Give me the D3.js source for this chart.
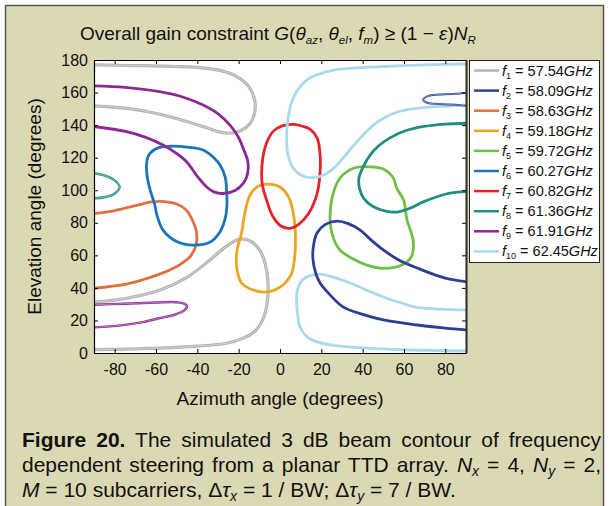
<!DOCTYPE html>
<html>
<head>
<meta charset="utf-8">
<script src="https://cdn.jsdelivr.net/npm/d3@7"></script>
<style>
body{margin:0;background:#fff;}
svg{display:block;font-family:"Liberation Sans",Arial,sans-serif;}
.axis path,.axis line{stroke:#000;}
.axis text{font-size:16px;fill:#111;font-family:"Liberation Sans",Arial,sans-serif;}
</style>
</head>
<body>
<div id="plot"></div>
<script>
// legend labels (GHz)
var freqLabels = ["57.54","58.09","58.63","59.18","59.72","60.27","60.82","61.36","61.91","62.45"];
var xTicks = [-80,-60,-40,-20,0,20,40,60,80];
var yTicks = [0,20,40,60,80,100,120,140,160,180];

// contour points, [azimuth, elevation]
var f1_top = [[-92,177],[-70,176.6],[-50,176],[-38,175.2],[-28,173.3],[-20.5,169.5],[-15,163.5],[-12.3,155.5],[-12.2,148],[-14.5,141],[-19,136.5],[-24.2,135],[-30,136],[-37,139],[-46,142.5],[-58,146.7],[-72,150],[-92,152]];
var f1_low = [[-92,31],[-75,33.5],[-58,38.7],[-45,46.5],[-34,57],[-26,65.5],[-19.5,70],[-14,68.5],[-9.7,63],[-7,54],[-5.8,43],[-6.3,30],[-8.5,20],[-12,13.5],[-18,9],[-26,6],[-40,4.2],[-58,3],[-92,2]];
var f2_main = [[92,43.5],[80,46],[66.4,52.2],[57,57.5],[50,63.3],[44,69.5],[38.8,75.5],[33,79.5],[27.6,81],[22,79],[17.9,73.7],[16,64],[16,57],[17.3,49],[19.4,43],[24,36],[30.5,28.3],[40,23.7],[50,20.3],[66.4,17.2],[80,15.3],[92,14]];
var f2_loop = [[69.3,155.5],[71.5,157.8],[77,158.8],[85,159.2],[93,159.3],[93,152.4],[85,152.5],[77,153],[71.5,153.6]];
var f3 = [[-92,85.3],[-80,87.5],[-70,90.5],[-62,92.8],[-56,93],[-50,91.5],[-45.5,88],[-42.5,82],[-40.5,75],[-40.5,67],[-43,60],[-47.5,55],[-53.3,51],[-60,47.7],[-66.4,45],[-75,42.2],[-92,39.5]];
var f4 = [[-6.3,103.8],[0,102],[4.3,95.5],[6.3,86.6],[7.3,77],[7.3,62],[5.7,49],[2.5,43],[0,40.5],[-4,38],[-8,37.4],[-13,38.7],[-18.6,43],[-21,53],[-20.8,63],[-18.6,73.7],[-17,86],[-14.5,97],[-10.5,102.5]];
var f5 = [[43.6,114.4],[50,113],[54.5,108.3],[56.6,101],[59.8,94],[61.4,82],[63.5,74],[64.6,67],[63.5,59],[59,54],[50,52],[42,54],[35,58],[29,63.3],[25.5,72],[24.2,84],[25.5,97],[29,107.5],[35.6,113.5]];
var f6 = [[-53.3,127],[-45,126.5],[-37.2,124.7],[-32,120],[-29,115.5],[-26.5,108],[-25.9,101],[-25.7,90],[-26.7,81.7],[-29.5,73.5],[-34,68],[-42,66.3],[-50,68.5],[-56.6,75.5],[-59.6,85],[-60.6,91],[-63,101],[-64.2,108],[-64.6,115.4],[-63.5,121.6],[-59,126]];
var f7 = [[6.5,140.5],[11,139.3],[14.5,137.5],[18,132],[19.4,121.6],[19.4,111.4],[18.5,101],[17,94],[14,86],[9.5,79.5],[4.8,76.6],[0.5,78],[-3.5,84],[-6.5,94],[-8.5,103],[-8.9,110],[-8.3,120],[-6.5,129],[-3.4,136],[1,139.5]];
var f8_left = [[-93,110.8],[-86,109.5],[-80.5,106.5],[-77.6,102],[-80,98],[-85,95.7],[-93,95]];
var f8_right = [[92,141.2],[80,140.6],[69,139],[60,136.2],[53,132],[47.5,127],[43.6,121.6],[40.3,114.5],[38.2,107.5],[38.5,101],[40.5,95],[45,90],[51,87.2],[56.7,86.6],[63,89],[69,92.7],[76,96],[83,98.3],[92,99.2]];
var f9_top = [[-92,164.2],[-75,163.2],[-58.2,160.5],[-46,156.8],[-37.2,152.3],[-29.5,146.5],[-24.2,140],[-20.3,133],[-17.8,125.7],[-15.6,118],[-15.4,113],[-16.2,108],[-17.8,104.2],[-21.5,100],[-27.5,98],[-32,99],[-35.5,102],[-40,108.5],[-45.2,117.5],[-50.5,123],[-56.6,127.8],[-65,132.5],[-74.3,136],[-92,139.5]];
var f9_low = [[-92,29.6],[-75,30.3],[-60,31],[-50,31.2],[-45.8,30],[-45,28.5],[-46.5,26],[-51,23.5],[-58,21.5],[-66.4,19],[-77,17],[-92,15.6]];
var f10_top = [[92,177.6],[70,177],[50,176],[35,175],[25.9,173.8],[18,171],[12.9,167.7],[8.5,161.5],[5.7,154.4],[3.8,143],[3.2,131.9],[4,121],[6.5,113.4],[10.5,109],[16.2,107.7],[21.5,109.5],[25.9,113.4],[31,120.5],[37.2,129.8],[43,137.5],[50,144.2],[58,148.5],[66.3,150.3],[78,151.5],[92,152.3]];
var f10_low = [[92,26.4],[78,27],[66,28],[58,31],[50,34.4],[42,38.6],[34,43],[26,46.5],[19.4,48.5],[14.5,47.5],[11,45],[8.5,39],[8,32.5],[8.5,24],[9.7,16],[13,10],[18,6.8],[26,4.7],[42,3],[60,2],[92,1.2]];

var colors = ["#b3b3b3","#2c3f98","#e2703f","#f0a31e","#6fbe45","#1c75ba","#e3232b","#1f9080","#8b2a95","#a9d9ec"];

// which frequency each piece belongs to
var curves = [
    {f:0, pts:f1_top, closed:false, w:3.2, dbl:true},
    {f:0, pts:f1_low, closed:false, w:3.2, dbl:true},
    {f:2, pts:f3, closed:false, w:2.8},
    {f:3, pts:f4, closed:true, w:2.8},
    {f:5, pts:f6, closed:true, w:2.8},
    {f:6, pts:f7, closed:true, w:2.8},
    {f:4, pts:f5, closed:true, w:2.8},
    {f:7, pts:f8_left, closed:false, w:2.4, dbl:true},
    {f:7, pts:f8_right, closed:false, w:2.8},
    {f:9, pts:f10_top, closed:false, w:2.8},
    {f:9, pts:f10_low, closed:false, w:2.8},
    {f:1, pts:f2_main, closed:false, w:2.8},
    {f:1, pts:f2_loop, closed:true, w:2.0, dbl:true},
    {f:8, pts:f9_top, closed:false, w:2.8},
    {f:8, pts:f9_low, closed:false, w:2.4, dbl:true}
];

var width = 609, height = 506,
    margin = {left:94, top:60, right:143, bottom:153},
    g_width = width - margin.left - margin.right,
    g_height = height - margin.top - margin.bottom;

var svg = d3.select("#plot").append("svg")
    .attr("width", width)
    .attr("height", height);

// beige figure panel
svg.append("rect").attr("x",0).attr("y",0).attr("width",width).attr("height",height).attr("fill","#fff");
svg.append("rect")
    .attr("x",5.5).attr("y",5.5).attr("width",598).attr("height",510)
    .attr("fill","#dbd8b4").attr("stroke","#555").attr("stroke-width",1.5);

var xScale = d3.scaleLinear().domain([-90,90]).range([margin.left, margin.left+g_width]);
var yScale = d3.scaleLinear().domain([0,180]).range([margin.top+g_height, margin.top]);

svg.append("rect")
    .attr("x",margin.left).attr("y",margin.top).attr("width",g_width).attr("height",g_height)
    .attr("fill","#fff");

svg.append("clipPath").attr("id","clip").append("rect")
    .attr("x",margin.left).attr("y",margin.top).attr("width",g_width).attr("height",g_height);

var line_open = d3.line()
    .curve(d3.curveCatmullRom)
    .x(function(d){ return xScale(d[0]); })
    .y(function(d){ return yScale(d[1]); });
var line_closed = d3.line()
    .curve(d3.curveCatmullRomClosed)
    .x(function(d){ return xScale(d[0]); })
    .y(function(d){ return yScale(d[1]); });

var gc = svg.append("g").attr("clip-path","url(#clip)");
curves.forEach(function(c){
    var d = c.closed ? line_closed(c.pts) : line_open(c.pts);
    gc.append("path").attr("d",d).attr("fill","none")
        .attr("stroke",colors[c.f]).attr("stroke-width",c.w);
    if (c.dbl) {
        gc.append("path").attr("d",d).attr("fill","none")
            .attr("stroke","#fff").attr("stroke-opacity",0.55).attr("stroke-width",0.7);
    }
});

// axes, ticks inside, plain hyphen for negatives
var fmt = function(d){ return String(d); };
var xAxis = d3.axisBottom(xScale).tickValues(xTicks).tickFormat(fmt).tickSizeInner(-4).tickSizeOuter(0).tickPadding(10.5);
var yAxis = d3.axisLeft(yScale).tickValues(yTicks).tickFormat(fmt).tickSizeInner(-4).tickSizeOuter(0).tickPadding(6);
var xTop = d3.axisTop(xScale).tickValues(xTicks).tickSizeInner(-4).tickSizeOuter(0).tickFormat("");
var yRight = d3.axisRight(yScale).tickValues(yTicks).tickSizeInner(-4).tickSizeOuter(0).tickFormat("");

svg.append("g").attr("class","axis").attr("transform","translate(0,"+(margin.top+g_height)+")").call(xAxis);
svg.append("g").attr("class","axis").attr("transform","translate("+margin.left+",0)").call(yAxis);
svg.append("g").attr("class","axis").attr("transform","translate(0,"+margin.top+")").call(xTop);
svg.append("g").attr("class","axis").attr("transform","translate("+(margin.left+g_width)+",0)").call(yRight);
svg.selectAll(".axis .domain").attr("stroke-width",1.2);
svg.append("line")
    .attr("x1",margin.left+g_width+0.5).attr("x2",margin.left+g_width+0.5)
    .attr("y1",margin.top).attr("y2",margin.top+g_height)
    .attr("stroke","#333").attr("stroke-width",2);

// axis titles
svg.append("text").attr("x",xScale(0)).attr("y",405).attr("text-anchor","middle")
    .attr("font-size",19).attr("fill","#111").text("Azimuth angle (degrees)");
svg.append("text").attr("transform","translate(41,"+yScale(90)+") rotate(-90)")
    .attr("text-anchor","middle").attr("font-size",19).attr("fill","#111")
    .text("Elevation angle (degrees)");

// chart title
var t = svg.append("text").attr("x",80).attr("y",40).attr("font-size",19).attr("fill","#111");
function part(el, txt, opts){
    var s = el.append("tspan").text(txt);
    opts = opts || {};
    if (opts.it) s.attr("font-style","italic");
    if (opts.b) s.attr("font-weight","bold");
    if (opts.fs) s.attr("font-size",opts.fs);
    if (opts.dy) s.attr("dy",opts.dy);
    return s;
}
part(t,"Overall gain constraint ");
part(t,"G",{it:1}); part(t,"(");
part(t,"θ",{it:1}); part(t,"az",{it:1,fs:11.5,dy:4}); part(t,", ",{dy:-4});
part(t,"θ",{it:1}); part(t,"el",{it:1,fs:11.5,dy:4}); part(t,", ",{dy:-4});
part(t,"f",{it:1}); part(t,"m",{it:1,fs:11.5,dy:4}); part(t,") ≥ (1 − ",{dy:-4});
part(t,"ε",{it:1}); part(t,")");
part(t,"N",{it:1}); part(t,"R",{it:1,fs:11.5,dy:4});

// legend
var lg = svg.append("g");
lg.append("rect").attr("x",469.5).attr("y",60.5).attr("width",130).attr("height",202)
    .attr("fill","#fff").attr("stroke","#222").attr("stroke-width",1);
freqLabels.forEach(function(lab,i){
    var y = 70.5 + i*20.1;
    lg.append("line").attr("x1",474).attr("x2",499).attr("y1",y).attr("y2",y)
        .attr("stroke",colors[i]).attr("stroke-width",2.5);
    var tx = lg.append("text").attr("x",502).attr("y",y+5).attr("font-size",14.5).attr("fill","#111");
    part(tx,"f",{it:1});
    part(tx,String(i+1),{fs:9,dy:3});
    part(tx," = "+lab,{dy:-3});
    part(tx,"GHz",{it:1});
});

// caption, justified lines
var capLeft = 22, capRight = 601;
function justify(el){
    var n = el.text().split(" ").length - 1;
    var w = el.node().getComputedTextLength();
    el.style("word-spacing", Math.max(0,(capRight-capLeft-w)/n)+"px");
}
var c1 = svg.append("text").attr("x",capLeft).attr("y",447).attr("font-size",21).attr("fill","#111");
part(c1,"Figure 20.",{b:1});
part(c1," The simulated 3 dB beam contour of frequency");
justify(c1);
var c2 = svg.append("text").attr("x",capLeft).attr("y",472).attr("font-size",21).attr("fill","#111");
part(c2,"dependent steering from a planar TTD array. ");
part(c2,"N",{it:1}); part(c2,"x",{it:1,fs:14,dy:4}); part(c2," = 4, ",{dy:-4});
part(c2,"N",{it:1}); part(c2,"y",{it:1,fs:14,dy:4}); part(c2," = 2,",{dy:-4});
justify(c2);
var c3 = svg.append("text").attr("x",capLeft).attr("y",497).attr("font-size",21).attr("fill","#111");
part(c3,"M",{it:1}); part(c3," = 10 subcarriers,  Δ");
part(c3,"τ",{it:1}); part(c3,"x",{it:1,fs:14,dy:4}); part(c3," = 1 / BW;  Δ",{dy:-4});
part(c3,"τ",{it:1}); part(c3,"y",{it:1,fs:14,dy:4}); part(c3," = 7 / BW.",{dy:-4});
</script>
</body>
</html>
